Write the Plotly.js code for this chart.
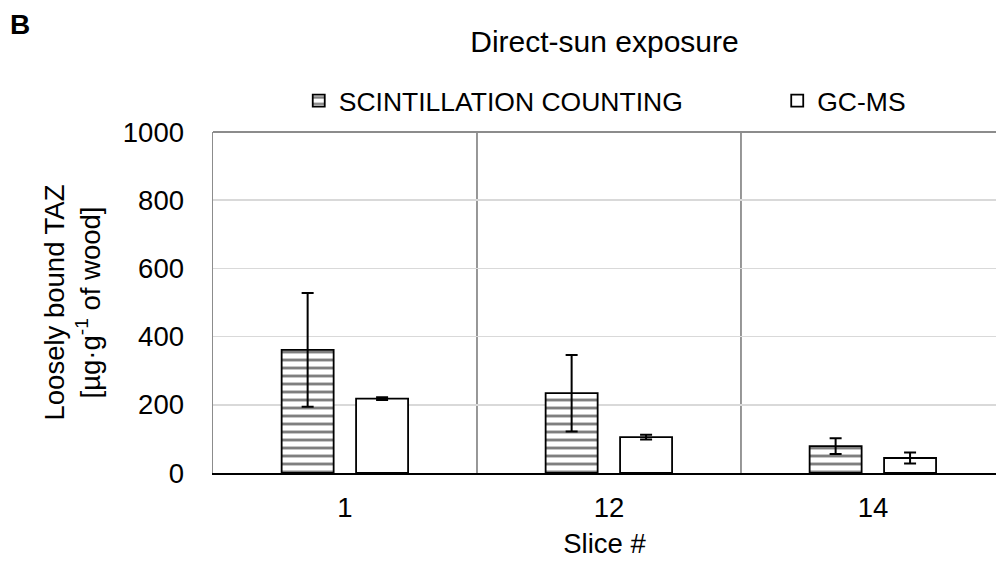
<!DOCTYPE html>
<html>
<head>
<meta charset="utf-8">
<script src="https://cdn.plot.ly/plotly-3.0.1.min.js"></script>
<style>html,body{margin:0;padding:0;background:#fff;}#chart{width:996px;height:561px;}</style>
</head>
<body>
<div id="chart"></div>
<script>
const slices = ['1', '12', '14'];
const scintValues = [361, 234, 79];
const scintErrors = [167, 112, 23];
const gcmsValues = [218, 105, 44];
const gcmsErrors = [4, 7, 16];
const seriesNames = ['SCINTILLATION COUNTING', 'GC-MS'];
const yTicks = [0, 200, 400, 600, 800, 1000];

const FONT = 'Liberation Sans, Arial, Helvetica, sans-serif';

const scint = {
  type: 'bar', name: seriesNames[0], x: slices, y: scintValues, legend: 'legend',
  width: 0.197, offset: -0.240,
  marker: {color: '#ffffff', line: {color: '#000000', width: 1.8},
           pattern: {shape: '-', size: 8, solidity: 0.36, fgcolor: '#000000', bgcolor: '#ffffff', fillmode: 'overlay'}},
  error_y: {type: 'data', array: scintErrors, visible: true, color: '#000000', thickness: 2, width: 6}
};
const gcms = {
  type: 'bar', name: seriesNames[1], x: slices, y: gcmsValues, legend: 'legend2',
  width: 0.197, offset: 0.042,
  marker: {color: '#ffffff', line: {color: '#000000', width: 1.8}},
  error_y: {type: 'data', array: gcmsErrors, visible: true, color: '#000000', thickness: 2, width: 6}
};

const legendFont = {family: FONT, size: 26.5, color: '#000000'};

const layout = {
  width: 996, height: 561,
  paper_bgcolor: '#ffffff', plot_bgcolor: '#ffffff',
  margin: {l: 213, r: 0, t: 132, b: 88, autoexpand: false},
  font: {family: FONT, color: '#000000', size: 27},
  barmode: 'overlay',
  showlegend: true,
  title: {text: 'Direct-sun exposure', font: {family: FONT, size: 30, color: '#000000'},
          x: 0.5, xref: 'paper', xanchor: 'center', y: 1 - 41 / 561, yref: 'container', yanchor: 'middle'},
  legend: {orientation: 'h', x: 0.1095, xanchor: 'left', y: 1.091, yanchor: 'middle',
           font: legendFont, bgcolor: 'rgba(0,0,0,0)'},
  legend2: {orientation: 'h', x: 0.7206, xanchor: 'left', y: 1.091, yanchor: 'middle',
           font: legendFont, bgcolor: 'rgba(0,0,0,0)'},
  xaxis: {type: 'category', range: [-0.5, 2.466], fixedrange: true,
          showgrid: false, zeroline: false,
          showline: true, linecolor: '#000000', linewidth: 2,
          ticks: 'outside', ticklen: 9, tickcolor: 'rgba(0,0,0,0)',
          tickfont: {family: FONT, size: 27.5, color: '#000000'},
          title: {text: 'Slice #', font: {family: FONT, size: 27.5, color: '#000000'}, standoff: 12}},
  yaxis: {range: [0, 1000], tickvals: yTicks, ticktext: yTicks.map(String), fixedrange: true,
          showgrid: true, gridcolor: '#d9d9d9', gridwidth: 1.5,
          zeroline: false,
          showline: true, linecolor: '#8c8c8c', linewidth: 1.5,
          ticks: 'outside', ticklen: 22, tickcolor: 'rgba(0,0,0,0)',
          tickfont: {family: FONT, size: 27.5, color: '#000000'},
          title: {text: 'Loosely bound TAZ<br>[µg·g<sup>-1</sup> of wood]', font: {family: FONT, size: 27.5, color: '#000000'}, standoff: 14}},
  shapes: [
    {type: 'line', xref: 'x', yref: 'paper', x0: 0.5, x1: 0.5, y0: 0, y1: 1, line: {color: '#8c8c8c', width: 1.8}, layer: 'below'},
    {type: 'line', xref: 'x', yref: 'paper', x0: 1.5, x1: 1.5, y0: 0, y1: 1, line: {color: '#8c8c8c', width: 1.8}, layer: 'below'},
    {type: 'line', xref: 'paper', yref: 'paper', x0: 0, x1: 1, y0: 1, y1: 1, line: {color: '#8c8c8c', width: 1.8}, layer: 'above'}
  ],
  annotations: [
    {text: '<b>B</b>', xref: 'paper', yref: 'paper', x: -0.262, y: 1.3138, xanchor: 'left', yanchor: 'middle',
     showarrow: false, font: {family: FONT, size: 28, color: '#000000'}}
  ]
};

Plotly.newPlot('chart', [scint, gcms], layout, {displayModeBar: false, staticPlot: true});
</script>
</body>
</html>
